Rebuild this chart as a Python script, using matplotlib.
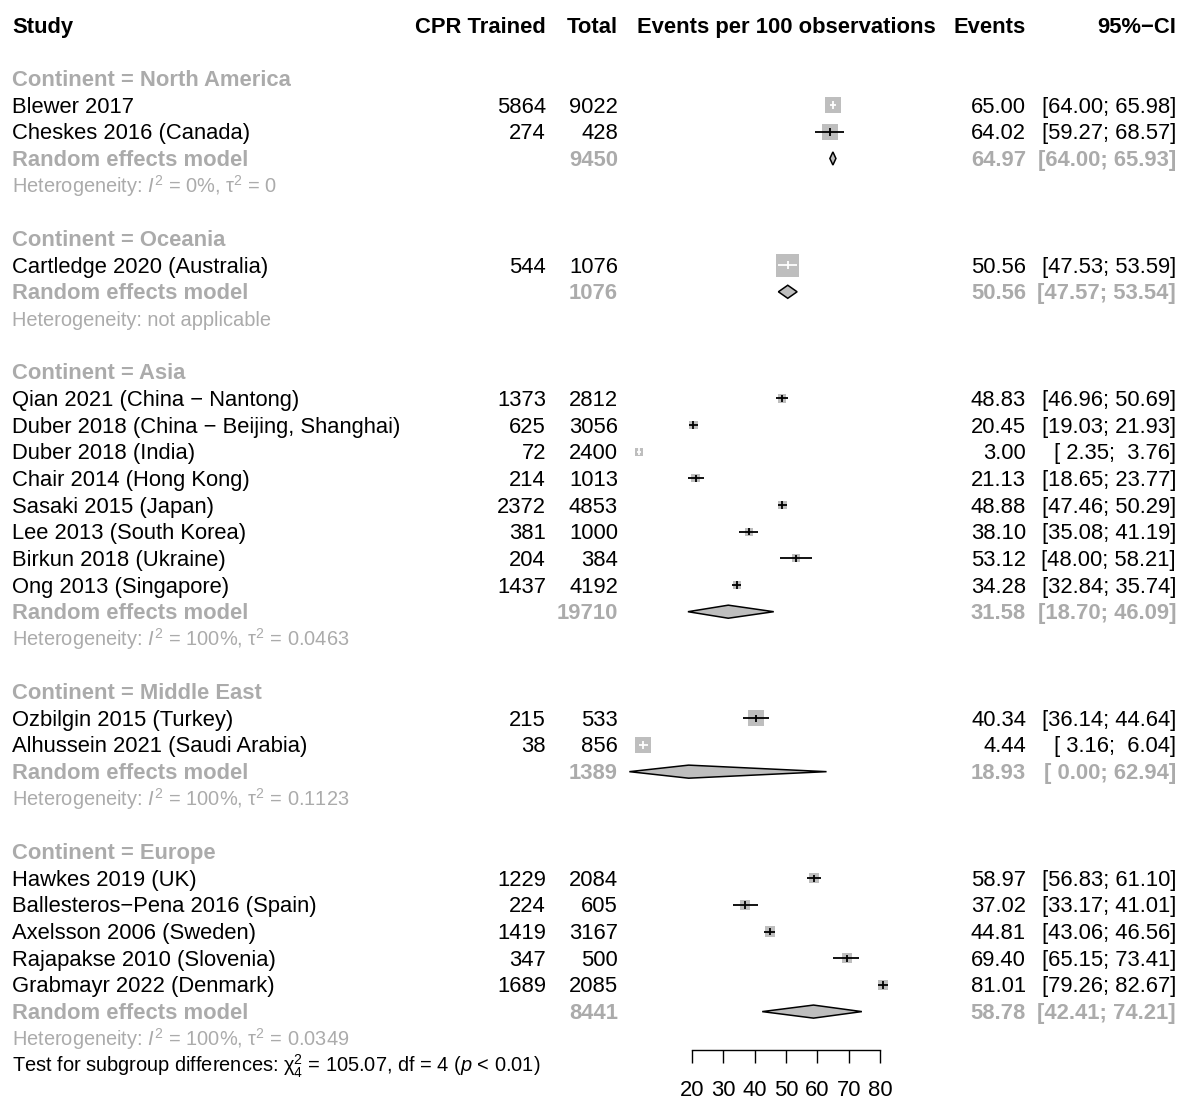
# forest plot: CPR training by continent, random effects subgroups

import matplotlib
matplotlib.use("Agg")
import matplotlib.pyplot as plt
import matplotlib.transforms as mtransforms
from matplotlib.patches import Rectangle, Polygon
import numpy as np

plt.rcParams['font.family'] = ['Liberation Sans', 'DejaVu Sans']
plt.rcParams['mathtext.fontset'] = 'custom'
plt.rcParams['mathtext.rm'] = 'Liberation Sans'
plt.rcParams['mathtext.it'] = 'Liberation Sans:italic'
plt.rcParams['mathtext.bf'] = 'Liberation Sans:bold'

# ---- data ----
studies = ["Blewer 2017", "Cheskes 2016 (Canada)",
           "Cartledge 2020 (Australia)",
           "Qian 2021 (China \u2212 Nantong)",
           "Duber 2018 (China \u2212 Beijing, Shanghai)",
           "Duber 2018 (India)", "Chair 2014 (Hong Kong)",
           "Sasaki 2015 (Japan)", "Lee 2013 (South Korea)",
           "Birkun 2018 (Ukraine)", "Ong 2013 (Singapore)",
           "Ozbilgin 2015 (Turkey)", "Alhussein 2021 (Saudi Arabia)",
           "Hawkes 2019 (UK)", "Ballesteros\u2212Pena 2016 (Spain)",
           "Axelsson 2006 (Sweden)", "Rajapakse 2010 (Slovenia)",
           "Grabmayr 2022 (Denmark)"]
group = (["North America"] * 2 + ["Oceania"] + ["Asia"] * 8 +
         ["Middle East"] * 2 + ["Europe"] * 5)
cpr = [5864, 274, 544, 1373, 625, 72, 214, 2372, 381, 204, 1437,
       215, 38, 1229, 224, 1419, 347, 1689]
total = [9022, 428, 1076, 2812, 3056, 2400, 1013, 4853, 1000, 384, 4192,
         533, 856, 2084, 605, 3167, 500, 2085]
est = [65.00, 64.02, 50.56, 48.83, 20.45, 3.00, 21.13, 48.88, 38.10, 53.12,
       34.28, 40.34, 4.44, 58.97, 37.02, 44.81, 69.40, 81.01]
lo = [64.00, 59.27, 47.53, 46.96, 19.03, 2.35, 18.65, 47.46, 35.08, 48.00,
      32.84, 36.14, 3.16, 56.83, 33.17, 43.06, 65.15, 79.26]
hi = [65.98, 68.57, 53.59, 50.69, 21.93, 3.76, 23.77, 50.29, 41.19, 58.21,
      35.74, 44.64, 6.04, 61.10, 41.01, 46.56, 73.41, 82.67]
weight = [50, 50, 100, 12.7, 12.7, 11.0, 12.5, 12.8, 12.6, 12.2, 12.8,
          50, 50, 20, 20, 20, 20, 20]

continents = ["North America", "Oceania", "Asia", "Middle East", "Europe"]
re_total = [9450, 1076, 19710, 1389, 8441]
re_est = [64.97, 50.56, 31.58, 18.93, 58.78]
re_lo = [64.00, 47.57, 18.70, 0.00, 42.41]
re_hi = [65.93, 53.54, 46.09, 62.94, 74.21]
i2 = ["0%", None, "100%", "100%", "100%"]
tau2 = ["0", None, "0.0463", "0.1123", "0.0349"]

xticks = [20, 30, 40, 50, 60, 70, 80]

# ---- layout (pixels) ----
W, H = 1179, 1099
ROW = 26.66          # px per row
Y0 = 78.5            # px centre of first row
X20, X80 = 692, 880  # px of 20 and 80 on the axis
PXU = (X80 - X20) / 60.0
AX_L, AX_R = 600, 950
GRAY = "#ABABAB"
BOX = "#BEBEBE"
FS = 15.8
FS_HET = 14.4
BL = 0.28            # baseline offset (rows)

fig = plt.figure(figsize=(W / 100, H / 100), dpi=100)
ax = fig.add_axes([AX_L / W, 0, (AX_R - AX_L) / W, 1])
ax.set_xlim(20 - (X20 - AX_L) / PXU, 20 + (AX_R - X20) / PXU)
ax.set_ylim((H - Y0) / ROW, -Y0 / ROW)
ax.axis('off')

tr = mtransforms.blended_transform_factory(fig.transFigure, ax.transData)


def txt(px, row, s, ha='left', color='black', bold=False, size=FS):
    ax.text(px / W, row + BL, s, transform=tr, ha=ha, va='baseline',
            fontsize=size, color=color,
            fontweight='bold' if bold else 'normal', clip_on=False)


def cols(row, n_ev, n_tot, e, l, h, color='black', bold=False):
    if n_ev is not None:
        txt(546, row, str(n_ev), 'right', color, bold)
    txt(618, row, str(n_tot), 'right', color, bold)
    txt(1026, row, f"{e:.2f}", 'right', color, bold)
    txt(1176, row, f"[{l:5.2f}; {h:5.2f}]", 'right', color, bold)


# header
txt(12, -2, "Study", bold=True)
txt(546, -2, "CPR Trained", 'right', bold=True)
txt(618, -2, "Total", 'right', bold=True)
ax.text(50, -2 + BL, "Events per 100 observations", ha='center',
        va='baseline', fontsize=FS, fontweight='bold', clip_on=False)
txt(1026, -2, "Events", 'right', bold=True)
txt(1176, -2, "95%\u2212CI", 'right', bold=True)

row = 0
for g, cont in enumerate(continents):
    txt(12, row, f"Continent = {cont}", color=GRAY, bold=True)
    idx = [i for i, c in enumerate(group) if c == cont]
    for i in idx:
        row += 1
        txt(12, row, studies[i])
        cols(row, cpr[i], total[i], est[i], lo[i], hi[i])
        side = 23 * np.sqrt(weight[i] / 100.0)
        bw, bh = side / PXU, side / ROW
        ax.add_patch(Rectangle((est[i] - bw / 2, row - bh / 2), bw, bh,
                               facecolor=BOX, edgecolor='none', zorder=2))
        inside = (hi[i] - lo[i]) * PXU < side
        lc = 'white' if inside else 'black'
        ax.hlines(row, lo[i], hi[i], color=lc, lw=1.3, zorder=3)
        ax.vlines(est[i], row - 0.14, row + 0.14, color=lc, lw=1.3, zorder=3)
    row += 1
    txt(12, row, "Random effects model", color=GRAY, bold=True)
    cols(row, None, re_total[g], re_est[g], re_lo[g], re_hi[g], GRAY, True)
    dh = 0.245
    ax.add_patch(Polygon([(re_lo[g], row), (re_est[g], row - dh),
                          (re_hi[g], row), (re_est[g], row + dh)],
                         closed=True, facecolor=BOX, edgecolor='black',
                         lw=1.1, zorder=3))
    row += 1
    if i2[g] is None:
        het = "Heterogeneity: not applicable"
    else:
        het = (r"Heterogeneity: $I^2$ = " + i2[g] +
               r", $\mathrm{\tau}^2$ = " + tau2[g])
    txt(12, row, het, color=GRAY, size=FS_HET)
    row += 2

txt(12, row - 1,
    r"Test for subgroup differences: $\mathrm{\chi}^2_4$ = 105.07, df = 4 "
    r"($p$ < 0.01)", size=FS_HET)

# x axis
axx = fig.add_axes([AX_L / W, (H - 1050) / H, (AX_R - AX_L) / W, 0.001],
                   sharex=ax)
axx.patch.set_visible(False)
for s in ['top', 'left', 'right']:
    axx.spines[s].set_visible(False)
axx.spines['bottom'].set_bounds(xticks[0], xticks[-1])
axx.spines['bottom'].set_linewidth(1.0)
axx.set_yticks([])
axx.set_xticks(xticks)
axx.set_xticklabels([str(t) for t in xticks])
axx.tick_params(axis='x', direction='out', length=13 * 0.72, width=1.0,
                labelsize=FS, pad=12)

fig.savefig("out.png", dpi=100)
